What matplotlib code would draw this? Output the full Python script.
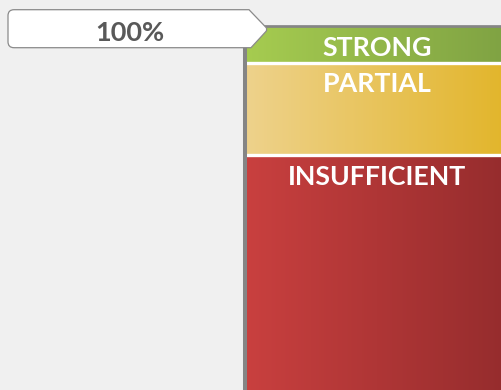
import numpy as np
import matplotlib
matplotlib.use("Agg")
import matplotlib.pyplot as plt
from matplotlib.path import Path
from matplotlib.patches import PathPatch
from matplotlib.colors import LinearSegmentedColormap
from matplotlib.transforms import IdentityTransform

# Share of assessments by rating (percent), stacked bottom to top
categories = ["INSUFFICIENT", "PARTIAL", "STRONG"]
values = [64.5, 25.5, 10.0]
top_label = "100%"

# left / right colour of each horizontal gradient fill
gradients = {
    "INSUFFICIENT": ("#c9403f", "#952c2d"),
    "PARTIAL": ("#eed28c", "#e2b52a"),
    "STRONG": ("#a6cc50", "#7fa243"),
}

W, H, DPI = 501, 390, 100
BG = "#f0f0f0"
plt.rcParams["font.family"] = ["Lato", "DejaVu Sans"]

fig = plt.figure(figsize=(W / DPI, H / DPI), dpi=DPI, facecolor=BG)

# axes: top at y=26.4 px, left at x=245 px, extends past right/bottom edges
ax_left, ax_right, ax_top, ax_bottom = 245, 509, 26.4, 390
ax = fig.add_axes([ax_left / W, (H - ax_bottom) / H,
                   (ax_right - ax_left) / W, (ax_bottom - ax_top) / H])
ax.set_facecolor(BG)
ax.set_xlim(0, 1)
ax.set_ylim(0, sum(values))

bottoms = np.concatenate([[0], np.cumsum(values)[:-1]])
patches = []
for cat, v, b in zip(categories, values, bottoms):
    p = ax.bar([0], [v], bottom=[b], width=1, align="edge",
               color=gradients[cat][0], linewidth=0, zorder=1)[0]
    patches.append(p)

# horizontal gradient painted over each bar segment
grad = np.linspace(0, 1, 256).reshape(1, -1)
for cat, p in zip(categories, patches):
    cmap = LinearSegmentedColormap.from_list(cat, gradients[cat])
    x0, y0, w, h = p.get_x(), p.get_y(), p.get_width(), p.get_height()
    ax.imshow(grad, cmap=cmap, aspect="auto", extent=(x0, x0 + w, y0, y0 + h),
              interpolation="bilinear", zorder=2)

# white separators between segments
for b in bottoms[1:]:
    ax.axhline(b, color="white", lw=2.4, zorder=3)

# segment labels, placed just below each segment's top
for cat, v, b in zip(categories, values, bottoms):
    ax.annotate(cat, xy=(0.5, b + v), xycoords="data",
                xytext=(0, -21.3), textcoords="offset points",
                ha="center", va="baseline", color="white",
                fontsize=19.3, fontweight="bold", zorder=4)

for s in ["right", "bottom"]:
    ax.spines[s].set_visible(False)
ax.spines["left"].set_color("#858585")
ax.spines["left"].set_linewidth(2.9)
ax.spines["top"].set_color("#858585")
ax.spines["top"].set_linewidth(1.95)
for s in ["left", "top"]:
    ax.spines[s].set_zorder(5)
ax.set_xticks([])
ax.set_yticks([])

# callout marker for the top of the scale
fig.canvas.draw()
tx, ty = ax.transData.transform((0, sum(values)))


def P(x, y):
    # pixel offsets measured downward from the axis top
    return (x, ty - y)


top, bot, left, r = -16.7, 21.3, 8.0, 6.0
verts = [P(left + r, top), P(249, top), P(266, 1.0), P(267.5, 3.0),
         P(266, 5.0), P(251, bot), P(left + r, bot),
         P(left, bot), P(left, bot - r), P(left, top + r),
         P(left, top), P(left + r, top), P(left + r, top)]
codes = [Path.MOVETO, Path.LINETO, Path.LINETO, Path.CURVE3, Path.CURVE3,
         Path.LINETO, Path.LINETO, Path.CURVE3, Path.CURVE3, Path.LINETO,
         Path.CURVE3, Path.CURVE3, Path.CLOSEPOLY]
callout = PathPatch(Path(verts, codes), facecolor="white", edgecolor="#8a8a8a",
                    lw=0.9, transform=IdentityTransform(), zorder=10)
fig.add_artist(callout)
fig.text(129.7 / W, (ty - 14.3) / H, top_label, ha="center", va="baseline",
         color="#595959", fontsize=19.5, fontweight="bold", zorder=11)

fig.savefig("out.png", dpi=DPI, facecolor=BG)
